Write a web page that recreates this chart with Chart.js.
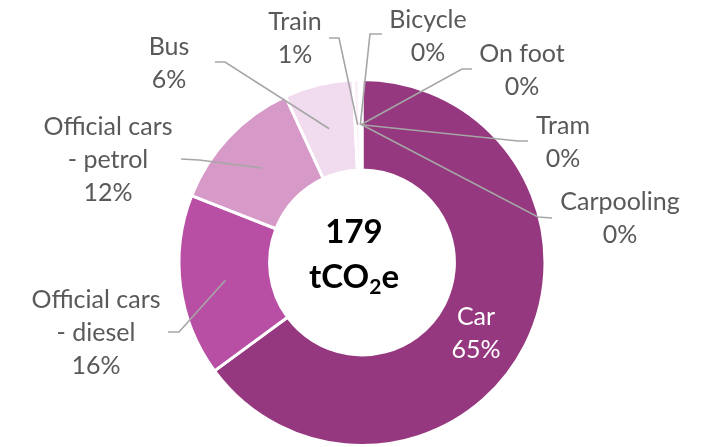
<!DOCTYPE html>
<html>
<head>
<meta charset="utf-8">
<script src="https://cdn.jsdelivr.net/npm/chart.js@4.4.1/dist/chart.umd.min.js"></script>
<style>
  html, body { margin: 0; padding: 0; background: #ffffff; }
  #wrap { width: 702px; height: 447px; position: relative; }
</style>
</head>
<body>
<div id="wrap"><canvas id="c" width="702" height="447"></canvas></div>
<script>
// ---- data ----
const categories = ["Car", "Official cars - diesel", "Official cars - petrol", "Bus", "Train", "Bicycle", "On foot", "Tram", "Carpooling"];
const labelLines = [["Car"], ["Official cars", "- diesel"], ["Official cars", "- petrol"], ["Bus"], ["Train"], ["Bicycle"], ["On foot"], ["Tram"], ["Carpooling"]];
const emissions = [116.2, 28.7, 21.8, 10.9, 1.0, 0.1, 0.1, 0.1, 0.1]; // tCO2e
const totalLabel = "179";

// ---- styles / layout ----
const colors = ["#95387f", "#b94fa4", "#d699c8", "#f1dbee", "#fbf0f8", "#fdf4fa", "#fdf4fa", "#fdf4fa", "#fdf4fa"];
// label block centre (x, y of first line), leader start and elbow
const labelLayout = [
  { x: 476, y: 317, inside: true },
  { x: 96,  y: 300, start: [168, 332], elbow: [179, 332] },
  { x: 108, y: 127, start: [181, 159], elbow: [199, 160] },
  { x: 169, y: 47,  start: [215, 62],  elbow: [225, 62] },
  { x: 295, y: 22,  start: [329, 38],  elbow: [339, 38] },
  { x: 428, y: 20,  start: [382, 34],  elbow: [370, 34] },
  { x: 522, y: 54,  start: [472, 69],  elbow: [462, 69] },
  { x: 563, y: 126, start: [528, 141], elbow: [518, 141] },
  { x: 620, y: 202, start: [552, 218], elbow: [538, 217] }
];
const lineGap = 33;
const labelFont = '25px Lato';

const total = emissions.reduce((a, b) => a + b, 0);

const labelPlugin = {
  id: 'outLabels',
  afterDatasetsDraw(chart) {
    const ctx = chart.ctx;
    const meta = chart.getDatasetMeta(0);
    ctx.save();
    ctx.strokeStyle = '#a6a6a6';
    ctx.lineWidth = 1.6;
    meta.data.forEach((arc, i) => {
      const L = labelLayout[i];
      if (L.inside) return;
      const p = arc.tooltipPosition();
      ctx.beginPath();
      ctx.moveTo(L.start[0], L.start[1]);
      ctx.lineTo(L.elbow[0], L.elbow[1]);
      ctx.lineTo(p.x, p.y);
      ctx.stroke();
    });
    ctx.font = labelFont;
    ctx.textAlign = 'center';
    ctx.textBaseline = 'middle';
    meta.data.forEach((arc, i) => {
      const L = labelLayout[i];
      const pct = Math.round(emissions[i] / total * 100) + '%';
      const lines = labelLines[i].concat([pct]);
      ctx.fillStyle = L.inside ? '#ffffff' : '#595959';
      lines.forEach((t, k) => ctx.fillText(t, L.x, L.y + k * lineGap));
    });
    const cx = meta.data[0].x - 8, cy = meta.data[0].y;
    ctx.fillStyle = '#000000';
    ctx.font = 'bold 33px Lato';
    ctx.fillText(totalLabel, cx, cy - 30);
    const a = 'tCO', b = '2', c = 'e';
    const fBig = 'bold 33px Lato', fSmall = 'bold 21px Lato';
    ctx.font = fBig; const wa = ctx.measureText(a).width, wc = ctx.measureText(c).width;
    ctx.font = fSmall; const wb = ctx.measureText(b).width;
    let x = cx - (wa + wb + wc) / 2;
    const by = cy + 15;
    ctx.textAlign = 'left';
    ctx.font = fBig; ctx.fillText(a, x, by); x += wa;
    ctx.font = fSmall; ctx.fillText(b, x, by + 10); x += wb;
    ctx.font = fBig; ctx.fillText(c, x, by);
    ctx.restore();
  }
};

new Chart(document.getElementById('c'), {
  type: 'doughnut',
  data: {
    labels: categories,
    datasets: [{
      data: emissions,
      backgroundColor: colors,
      borderColor: '#ffffff',
      borderWidth: 3
    }]
  },
  options: {
    responsive: false,
    animation: false,
    cutout: '50.5%',
    layout: { padding: { top: 78, bottom: 0, left: 170, right: 148 } },
    plugins: { legend: { display: false }, tooltip: { enabled: false } }
  },
  plugins: [labelPlugin]
});
</script>
</body>
</html>
